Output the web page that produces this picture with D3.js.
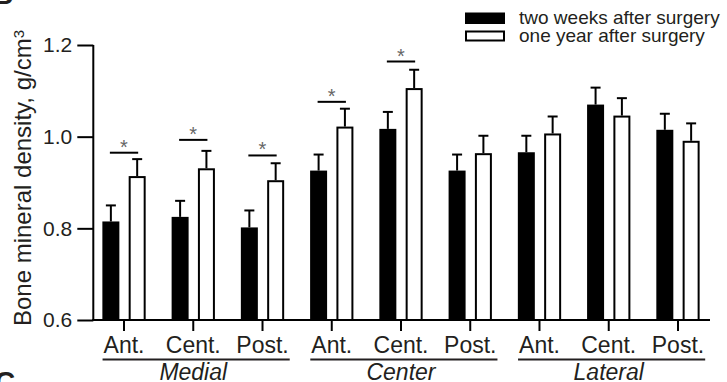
<!DOCTYPE html>
<html>
<head>
<meta charset="utf-8">
<script src="https://cdn.jsdelivr.net/npm/d3@7"></script>
<style>
    body { margin: 0; background: #fff; }
    svg { display: block; font-family: Arial, "Liberation Sans", sans-serif; }
</style>
</head>
<body>
<div id="chart"></div>
<script>
// chart values
const regions = ["Medial", "Center", "Lateral"];
const sites = ["Ant.", "Cent.", "Post."];
const series = ["two weeks after surgery", "one year after surgery"];
const twoWeeks = [0.815, 0.825, 0.802, 0.926, 1.017, 0.926, 0.966, 1.070, 1.015];
const twoWeeksErr = [0.035, 0.035, 0.037, 0.035, 0.037, 0.035, 0.036, 0.037, 0.035];
const oneYear = [0.914, 0.931, 0.905, 1.022, 1.106, 0.964, 1.007, 1.046, 0.991];
const oneYearErr = [0.037, 0.038, 0.037, 0.039, 0.040, 0.038, 0.037, 0.038, 0.038];
// significant pairs: category index and bracket height
const sigIndex = [0, 1, 2, 3, 4];
const sigLevel = [0.965, 0.993, 0.959, 1.076, 1.164];
const yTicks = [0.6, 0.8, 1.0, 1.2];

const width = 727, height = 382;
const ink = "#231f20";

const svg = d3.select("#chart")
    .append("svg")
    .attr("width", width)
    .attr("height", height);

// category keys, one per bar pair
const cats = [];
regions.forEach(function (r) {
    sites.forEach(function (s) {
        cats.push(r + "|" + s);
    });
});

const x = d3.scaleBand().domain(cats).range([89.4, 712.6]).padding(0);
const x1 = d3.scaleBand().domain(series).range([-21.65, 21.65]).paddingInner(0.354);
const y = d3.scaleLinear().domain([0.6, 1.2]).range([320, 45]);
const axisX = 93.3, axisRight = 710;

function cx(i) {
    return x(cats[i]) + x.bandwidth() / 2;
}

// y axis
const yAxis = svg.append("g")
    .attr("transform", `translate(${axisX},0)`)
    .call(d3.axisLeft(y).tickValues(yTicks).tickFormat(d3.format(".1f"))
        .tickSize(16).tickPadding(5));
yAxis.select(".domain").attr("stroke", "#000").attr("stroke-width", 2)
    .attr("d", `M0,${y(1.2)}V${y(0.6)}`);
yAxis.selectAll(".tick line").attr("stroke", "#000").attr("stroke-width", 2);
yAxis.selectAll(".tick text").attr("fill", ink).style("font-size", "21px")
    .attr("font-family", null);

// x axis
const xAxis = svg.append("g")
    .attr("transform", `translate(0,${y(0.6)})`)
    .call(d3.axisBottom(x).tickFormat(function (d) { return d.split("|")[1]; })
        .tickSize(11).tickPadding(5));
xAxis.select(".domain").attr("stroke", "#000").attr("stroke-width", 2)
    .attr("d", `M${axisX - 1},0H${axisRight}`);
xAxis.selectAll(".tick line").attr("stroke", "#000").attr("stroke-width", 2);
xAxis.selectAll(".tick text").attr("fill", ink).style("font-size", "23px")
    .attr("font-family", null).attr("dy", "0.72em").attr("y", 16);

// region underlines and names
regions.forEach(function (r, ri) {
    const labels = xAxis.selectAll(".tick text").filter(function (d) {
        return d.split("|")[0] === r;
    }).nodes();
    const first = labels[0].getBBox();
    const firstX = cx(ri * 3);
    const last = labels[labels.length - 1].getBBox();
    const lastX = cx(ri * 3 + 2);
    const x0 = firstX + first.x - 1;
    const x2 = lastX + last.x + last.width + 1;
    svg.append("line")
        .attr("x1", x0).attr("x2", x2)
        .attr("y1", 359.5).attr("y2", 359.5)
        .attr("stroke", ink).attr("stroke-width", 2);
    svg.append("text")
        .attr("x", cx(ri * 3 + 1))
        .attr("y", 380)
        .attr("text-anchor", "middle")
        .attr("fill", ink)
        .style("font-size", "23px")
        .style("font-style", "italic")
        .text(r);
});

// bars
const barData = [];
cats.forEach(function (c, i) {
    barData.push({cat: c, s: series[0], v: twoWeeks[i], e: twoWeeksErr[i]});
    barData.push({cat: c, s: series[1], v: oneYear[i], e: oneYearErr[i]});
});

const bars = svg.append("g")
    .selectAll("g")
    .data(barData)
    .join("g")
    .attr("transform", function (d) {
        return `translate(${x(d.cat) + x.bandwidth() / 2 + x1(d.s)},0)`;
    });

// error bars (drawn first so white bars cover nothing odd)
const bw = x1.bandwidth();
bars.append("line")
    .attr("x1", bw / 2).attr("x2", bw / 2)
    .attr("y1", function (d) { return y(d.v); })
    .attr("y2", function (d) { return y(d.v + d.e); })
    .attr("stroke", "#000").attr("stroke-width", 2);
bars.append("line")
    .attr("x1", bw / 2 - 5).attr("x2", bw / 2 + 5)
    .attr("y1", function (d) { return y(d.v + d.e); })
    .attr("y2", function (d) { return y(d.v + d.e); })
    .attr("stroke", "#000").attr("stroke-width", 2);

bars.append("rect")
    .attr("x", function (d) { return d.s === series[0] ? 0 : 1; })
    .attr("width", function (d) { return d.s === series[0] ? bw : bw - 2; })
    .attr("y", function (d) { return d.s === series[0] ? y(d.v) : y(d.v) + 1; })
    .attr("height", function (d) { return y(0.6) - y(d.v) - (d.s === series[0] ? 0 : 1); })
    .attr("fill", function (d) { return d.s === series[0] ? "#000" : "#fff"; })
    .attr("stroke", function (d) { return d.s === series[0] ? "none" : "#000"; })
    .attr("stroke-width", 2);

// significance brackets
sigIndex.forEach(function (ci, k) {
    const c = cats[ci];
    const xa = x(c) + x.bandwidth() / 2 + x1(series[0]) + bw / 2;
    const xb = x(c) + x.bandwidth() / 2 + x1(series[1]) + bw / 2;
    svg.append("line")
        .attr("x1", xa - 1).attr("x2", xb + 1)
        .attr("y1", y(sigLevel[k])).attr("y2", y(sigLevel[k]))
        .attr("stroke", "#000").attr("stroke-width", 2);
    svg.append("text")
        .attr("x", (xa + xb) / 2)
        .attr("y", y(sigLevel[k]) + 1)
        .attr("text-anchor", "middle")
        .attr("fill", "#666")
        .style("font-size", "20px")
        .text("*");
});

// y axis title
const ytitle = svg.append("text")
    .attr("transform", "translate(31,178) rotate(-90)")
    .attr("text-anchor", "middle")
    .attr("fill", ink)
    .style("font-size", "24px");
ytitle.append("tspan").text("Bone mineral density, g/cm");
ytitle.append("tspan").attr("dy", "-0.45em").style("font-size", "15px").text("3");

// legend
const legend = svg.append("g").attr("transform", "translate(465,12.5)");
series.forEach(function (s, i) {
    const row = legend.append("g").attr("transform", `translate(0,${i * 18})`);
    if (i === 0) {
        row.append("rect").attr("width", 40).attr("height", 11.5).attr("fill", "#000");
    } else {
        row.append("rect").attr("x", 1).attr("y", 1).attr("width", 38).attr("height", 9)
            .attr("fill", "#fff").attr("stroke", "#000").attr("stroke-width", 2);
    }
    row.append("text")
        .attr("x", 54)
        .attr("y", 11)
        .attr("fill", ink)
        .style("font-size", "19px")
        .text(s);
});

// panel letters cut by the frame
svg.append("text").attr("x", -7).attr("y", 4)
    .style("font-size", "28px").style("font-weight", "bold").attr("fill", ink).text("B");
svg.append("text").attr("x", -5).attr("y", 391)
    .style("font-size", "28px").style("font-weight", "bold").attr("fill", ink).text("C");
</script>
</body>
</html>
